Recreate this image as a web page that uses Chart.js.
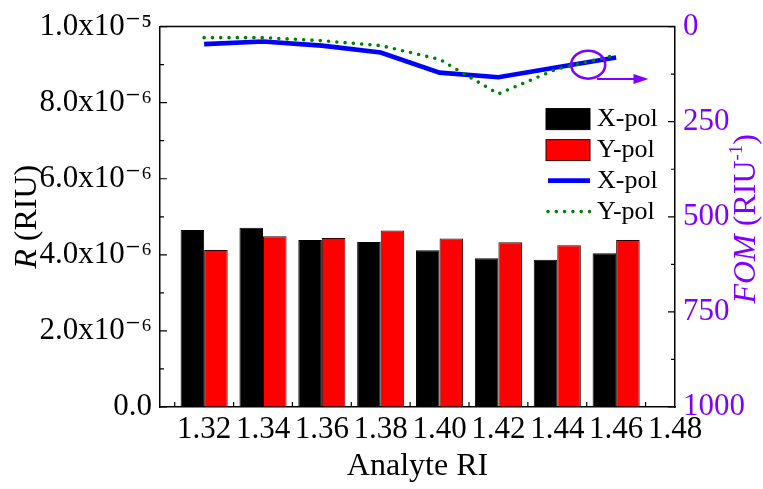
<!DOCTYPE html>
<html>
<head>
<meta charset="utf-8">
<script src="https://cdn.jsdelivr.net/npm/chart.js@4.4.1/dist/chart.umd.min.js"></script>
<style>
  html, body { margin: 0; padding: 0; background: #fff; }
  #c { display: block; }
</style>
</head>
<body>
<canvas id="c" width="763" height="489"></canvas>
<script>
// ---- data ----
const categories = [1.32, 1.34, 1.36, 1.38, 1.40, 1.42, 1.44, 1.46];
const xTickValues = [1.32, 1.34, 1.36, 1.38, 1.40, 1.42, 1.44, 1.46, 1.48];
const rXpol = [4.65e-6, 4.71e-6, 4.39e-6, 4.34e-6, 4.12e-6, 3.91e-6, 3.87e-6, 4.04e-6];
const rYpol = [4.13e-6, 4.49e-6, 4.44e-6, 4.64e-6, 4.43e-6, 4.33e-6, 4.25e-6, 4.39e-6];
const fomXpol = [46, 39, 50, 68, 121, 133, 107, 81];
const fomYpol = [29, 29, 37, 50, 86, 177, 111, 75];
const rTickValues = [0, 2e-6, 4e-6, 6e-6, 8e-6, 1e-5];
const rTickLabels = ['0.0', '2.0x10⁻⁶', '4.0x10⁻⁶', '6.0x10⁻⁶', '8.0x10⁻⁶', '1.0x10⁻⁵'];
const fomTickValues = [0, 250, 500, 750, 1000];

const SERIF = '"Liberation Serif", "Times New Roman", "DejaVu Serif", serif';
const PURPLE = '#8000ff';

function pts(ys) { return categories.map((x, i) => ({ x: x, y: ys[i] })); }

function drawMixed(ctx, parts, cx, cy, rot, color) {
  ctx.save();
  ctx.translate(cx, cy);
  ctx.rotate(rot);
  let total = 0;
  parts.forEach(p => { ctx.font = p.font; p.w = ctx.measureText(p.text).width; total += p.w; });
  let x = -total / 2;
  ctx.fillStyle = color;
  ctx.textBaseline = 'middle';
  ctx.textAlign = 'left';
  parts.forEach(p => { ctx.font = p.font; ctx.fillText(p.text, x, p.dy || 0); x += p.w; });
  ctx.restore();
}

const decor = {
  id: 'decor',
  afterDraw(chart) {
    const ctx = chart.ctx;
    const a = chart.chartArea;
    const sx = chart.scales.x, sy = chart.scales.y, sy2 = chart.scales.y2;
    ctx.save();
    // top frame line
    ctx.strokeStyle = '#000';
    ctx.lineWidth = 1.5;
    ctx.beginPath();
    ctx.moveTo(a.left, a.top);
    ctx.lineTo(a.right, a.top);
    ctx.stroke();

    // inward ticks
    ctx.lineWidth = 1.2;
    ctx.beginPath();
    xTickValues.forEach(v => {
      const t = v - 0.01;
      if (t >= sx.min) {
        const px = sx.getPixelForValue(t);
        ctx.moveTo(px, a.bottom); ctx.lineTo(px, a.bottom - 5);
      }
    });
    rTickValues.forEach((v, i) => {
      const py = sy.getPixelForValue(v);
      ctx.moveTo(a.left, py); ctx.lineTo(a.left + 7, py);
      if (i > 0) {
        const pm = sy.getPixelForValue((v + rTickValues[i - 1]) / 2);
        ctx.moveTo(a.left, pm); ctx.lineTo(a.left + 4, pm);
      }
    });
    fomTickValues.forEach((v, i) => {
      const py = sy2.getPixelForValue(v);
      ctx.moveTo(a.right, py); ctx.lineTo(a.right - 7, py);
      if (i > 0) {
        const pm = sy2.getPixelForValue((v + fomTickValues[i - 1]) / 2);
        ctx.moveTo(a.right, pm); ctx.lineTo(a.right - 4, pm);
      }
    });
    ctx.stroke();

    // legend
    const ds = chart.data.datasets;
    const lx = a.right - 129, ly = a.top + 92, step = 31;
    const rows = [ds[2], ds[3], ds[1], ds[0]];
    ctx.font = '26px ' + SERIF;
    ctx.textBaseline = 'middle';
    ctx.textAlign = 'left';
    rows.forEach((d, i) => {
      const y = ly + i * step;
      if (d.type === 'bar') {
        ctx.fillStyle = d.backgroundColor;
        ctx.fillRect(lx, y - 10, 44, 21);
        ctx.strokeStyle = d.borderColor;
        ctx.lineWidth = 1;
        ctx.strokeRect(lx, y - 10, 44, 21);
      } else {
        ctx.save();
        ctx.strokeStyle = d.borderColor;
        ctx.lineWidth = d.borderWidth;
        ctx.lineCap = d.borderCapStyle || 'butt';
        ctx.setLineDash(d.borderDash || []);
        ctx.beginPath();
        ctx.moveTo(lx + 2, y); ctx.lineTo(lx + 44, y);
        ctx.stroke();
        ctx.restore();
      }
      ctx.fillStyle = '#000';
      ctx.fillText(d.label, lx + 51, y + 1);
    });

    // annotation ellipse + arrow
    const ex = sx.getPixelForValue(1.4505), ey = sy2.getPixelForValue(100);
    ctx.strokeStyle = PURPLE;
    ctx.lineWidth = 2.5;
    ctx.beginPath();
    ctx.ellipse(ex, ey, 17, 14, 0, 0, Math.PI * 2);
    ctx.stroke();
    const ay = sy2.getPixelForValue(138);
    const ax0 = sx.getPixelForValue(1.4535), ax1 = sx.getPixelForValue(1.471);
    ctx.lineWidth = 2;
    ctx.beginPath();
    ctx.moveTo(ax0, ay); ctx.lineTo(ax1 - 12, ay);
    ctx.stroke();
    ctx.fillStyle = PURPLE;
    ctx.beginPath();
    ctx.moveTo(ax1, ay); ctx.lineTo(ax1 - 15, ay - 5); ctx.lineTo(ax1 - 15, ay + 5);
    ctx.closePath();
    ctx.fill();

    // axis titles
    const big = '32px ' + SERIF, ital = 'italic 32px ' + SERIF, sup = '19px ' + SERIF;
    drawMixed(ctx, [{ text: 'R', font: ital }, { text: ' (RIU)', font: big }],
      28, (a.top + a.bottom) / 2, -Math.PI / 2, '#000');
    drawMixed(ctx, [{ text: 'FOM', font: ital }, { text: ' (RIU', font: big },
      { text: '-1', font: sup, dy: -10 }, { text: ')', font: big }],
      747, (a.top + a.bottom) / 2 + 2, -Math.PI / 2, PURPLE);
    drawMixed(ctx, [{ text: 'Analyte RI', font: big }],
      (a.left + a.right) / 2, 467, 0, '#000');
    ctx.restore();
  }
};

new Chart(document.getElementById('c'), {
  data: {
    datasets: [
      { type: 'line', label: 'Y-pol', data: pts(fomYpol), yAxisID: 'y2',
        borderColor: '#008000', borderWidth: 3.6, borderDash: [0, 8.3], borderCapStyle: 'round',
        pointRadius: 0, fill: false, tension: 0 },
      { type: 'line', label: 'X-pol', data: pts(fomXpol), yAxisID: 'y2',
        borderColor: '#0000ff', borderWidth: 4.6, pointRadius: 0, fill: false, tension: 0 },
      { type: 'bar', label: 'X-pol', data: pts(rXpol), yAxisID: 'y',
        backgroundColor: '#000000', borderColor: '#000000', borderWidth: 1,
        categoryPercentage: 0.8, barPercentage: 1.0 },
      { type: 'bar', label: 'Y-pol', data: pts(rYpol), yAxisID: 'y',
        backgroundColor: '#ff0000', borderColor: '#300000', borderWidth: 1,
        categoryPercentage: 0.8, barPercentage: 1.0 }
    ]
  },
  options: {
    responsive: false,
    animation: false,
    layout: { padding: { top: 24, left: 0, right: 0, bottom: 0 } },
    plugins: { legend: { display: false }, tooltip: { enabled: false } },
    scales: {
      x: {
        type: 'linear', min: 1.305, max: 1.48, offset: false,
        afterBuildTicks: s => { s.ticks = xTickValues.map(v => ({ value: v })); },
        afterFit: s => { s.height = 82; },
        ticks: { callback: v => Number(v).toFixed(2), autoSkip: false, maxRotation: 0, minRotation: 0,
          padding: 4, color: '#000', font: { family: SERIF, size: 31 } },
        grid: { display: true, drawOnChartArea: false, drawTicks: false, offset: false },
        border: { display: true, color: '#000', width: 1.5 }
      },
      y: {
        type: 'linear', position: 'left', min: 0, max: 1e-5,
        afterBuildTicks: s => { s.ticks = rTickValues.map(v => ({ value: v })); },
        afterFit: s => { s.width = 160; },
        ticks: { callback: (v, i) => rTickLabels[i], padding: 8, color: '#000',
          font: { family: SERIF, size: 31 } },
        grid: { display: true, drawOnChartArea: false, drawTicks: false },
        border: { display: true, color: '#000', width: 1.5 }
      },
      y2: {
        type: 'linear', position: 'right', min: 0, max: 1000, reverse: true,
        afterBuildTicks: s => { s.ticks = fomTickValues.map(v => ({ value: v })); },
        afterFit: s => { s.width = 88; },
        ticks: { callback: v => String(v), padding: 8, color: PURPLE,
          font: { family: SERIF, size: 31 } },
        grid: { display: true, drawOnChartArea: false, drawTicks: false },
        border: { display: true, color: '#000', width: 1.5 }
      }
    }
  },
  plugins: [decor]
});
</script>
</body>
</html>
